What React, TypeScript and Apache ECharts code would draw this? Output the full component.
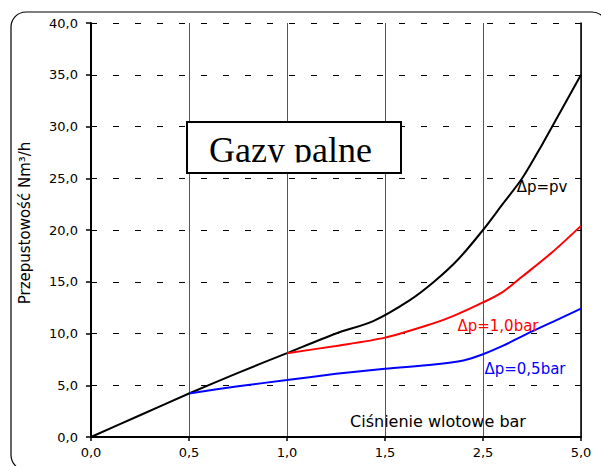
import React, { useEffect, useRef } from "react";
import * as echarts from "echarts";

const xTickLabels = ["0,0", "0,5", "1,0", "1,5", "2,5", "5,0"];

const xBlack = [0, 0.5, 1, 1.5, 2, 2.5, 2.88, 3.25, 3.5, 3.75, 4, 4.2, 4.4, 4.6, 4.8, 5];
const yBlack = [0, 2.1, 4.2, 6.2, 8.1, 10.0, 11.2, 13.2, 15.0, 17.2, 20.0, 22.5, 25.0, 28.2, 31.6, 35.0];

const xRed = [2, 2.5, 3, 3.5, 3.7, 4, 4.2, 4.4, 4.7, 5];
const yRed = [8.1, 8.8, 9.6, 11.0, 11.7, 13.0, 14.0, 15.5, 17.8, 20.4];

const xBlue = [1, 1.5, 2, 2.5, 3, 3.5, 3.8, 4, 4.2, 4.5, 4.75, 5];
const yBlue = [4.2, 4.9, 5.5, 6.1, 6.6, 7.0, 7.4, 8.0, 8.8, 10.2, 11.3, 12.4];

const pair = (xs: number[], ys: number[]) => xs.map((x, i) => [x, ys[i]]);

const FONT = "DejaVu Sans";

export default function App() {
  const ref = useRef<HTMLDivElement>(null);
  useEffect(() => {
    if (!ref.current) return;
    const chart = echarts.init(ref.current, null, { renderer: "svg" });
    chart.setOption({
      animation: false,
      backgroundColor: "#ffffff",
      grid: { left: 91, right: 20, top: 23, bottom: 29, containLabel: false },
      xAxis: {
        type: "value",
        min: 0,
        max: 5,
        interval: 1,
        axisLine: { show: true, onZero: false, lineStyle: { color: "#000", width: 2 } },
        axisTick: { show: true, length: 4, lineStyle: { color: "#000", width: 1.5 } },
        axisLabel: {
          formatter: (v: number) => xTickLabels[Math.round(v)] ?? "",
          color: "#000",
          fontFamily: FONT,
          fontSize: 13,
          margin: 9,
        },
        splitLine: { show: true, lineStyle: { color: "#555", width: 1 } },
      },
      yAxis: [
        {
          type: "value",
          min: 0,
          max: 40,
          interval: 5,
          axisLine: { show: true, lineStyle: { color: "#000", width: 2 } },
          axisTick: { show: true, length: 5, lineStyle: { color: "#000", width: 1.5 } },
          axisLabel: {
            formatter: (v: number) => v.toFixed(1).replace(".", ","),
            color: "#000",
            fontFamily: FONT,
            fontSize: 13,
            margin: 13,
          },
          splitLine: { show: true, lineStyle: { color: "#000", width: 1, type: [6, 16] } },
        },
        {
          type: "value",
          min: 0,
          max: 40,
          interval: 5,
          position: "right",
          axisLine: { show: true, lineStyle: { color: "#000", width: 1.5 } },
          axisTick: { show: false },
          axisLabel: { show: false },
          splitLine: { show: false },
        },
      ],
      series: [
        {
          type: "line",
          data: pair(xBlack, yBlack),
          smooth: 0.3,
          symbol: "none",
          lineStyle: { color: "#000", width: 2 },
          z: 3,
        },
        {
          type: "line",
          data: pair(xRed, yRed),
          smooth: 0.3,
          symbol: "none",
          lineStyle: { color: "#ff0000", width: 2 },
          z: 3,
        },
        {
          type: "line",
          data: pair(xBlue, yBlue),
          smooth: 0.3,
          symbol: "none",
          lineStyle: { color: "#0000ff", width: 2 },
          z: 3,
        },
      ],
      graphic: [
        {
          type: "rect",
          shape: { x: 11, y: 12, width: 596, height: 458, r: 15 },
          style: { fill: "none", stroke: "#000", lineWidth: 1.2 },
          silent: true,
        },
        {
          type: "rect",
          shape: { x: 187, y: 122, width: 214, height: 51 },
          style: { fill: "#fff", stroke: "#000", lineWidth: 2 },
          z: 10,
        },
        {
          type: "text",
          x: 209,
          y: 150,
          style: {
            text: "Gazy palne",
            font: "36px 'Liberation Serif'",
            fill: "#000",
            align: "left",
            verticalAlign: "middle",
          },
          z: 11,
        },
        {
          type: "rect",
          shape: { x: 189, y: 162.5, width: 210, height: 9.5 },
          style: { fill: "#fff", stroke: "none" },
          z: 12,
        },
        {
          type: "text",
          x: 25,
          y: 223,
          rotation: Math.PI / 2,
          style: {
            text: "Przepustowość Nm³/h",
            font: `15px '${FONT}'`,
            fill: "#000",
            align: "center",
            verticalAlign: "middle",
          },
        },
        {
          type: "text",
          x: 438,
          y: 421,
          style: {
            text: "Ciśnienie wlotowe bar",
            font: `16px '${FONT}'`,
            fill: "#000",
            align: "center",
            verticalAlign: "middle",
          },
        },
        {
          type: "text",
          x: 542,
          y: 187,
          style: {
            text: "Δp=pv",
            font: `15px '${FONT}'`,
            fill: "#000",
            align: "center",
            verticalAlign: "middle",
          },
          z: 5,
        },
        {
          type: "text",
          x: 498,
          y: 326,
          style: {
            text: "Δp=1,0bar",
            font: `15px '${FONT}'`,
            fill: "#ff0000",
            align: "center",
            verticalAlign: "middle",
          },
          z: 5,
        },
        {
          type: "text",
          x: 525,
          y: 369,
          style: {
            text: "Δp=0,5bar",
            font: `15px '${FONT}'`,
            fill: "#0000ff",
            align: "center",
            verticalAlign: "middle",
          },
          z: 5,
        },
      ],
    });
    return () => chart.dispose();
  }, []);
  return (
    <div
      ref={ref}
      style={{ position: "fixed", left: 0, top: 0, width: 601, height: 466 }}
    />
  );
}
